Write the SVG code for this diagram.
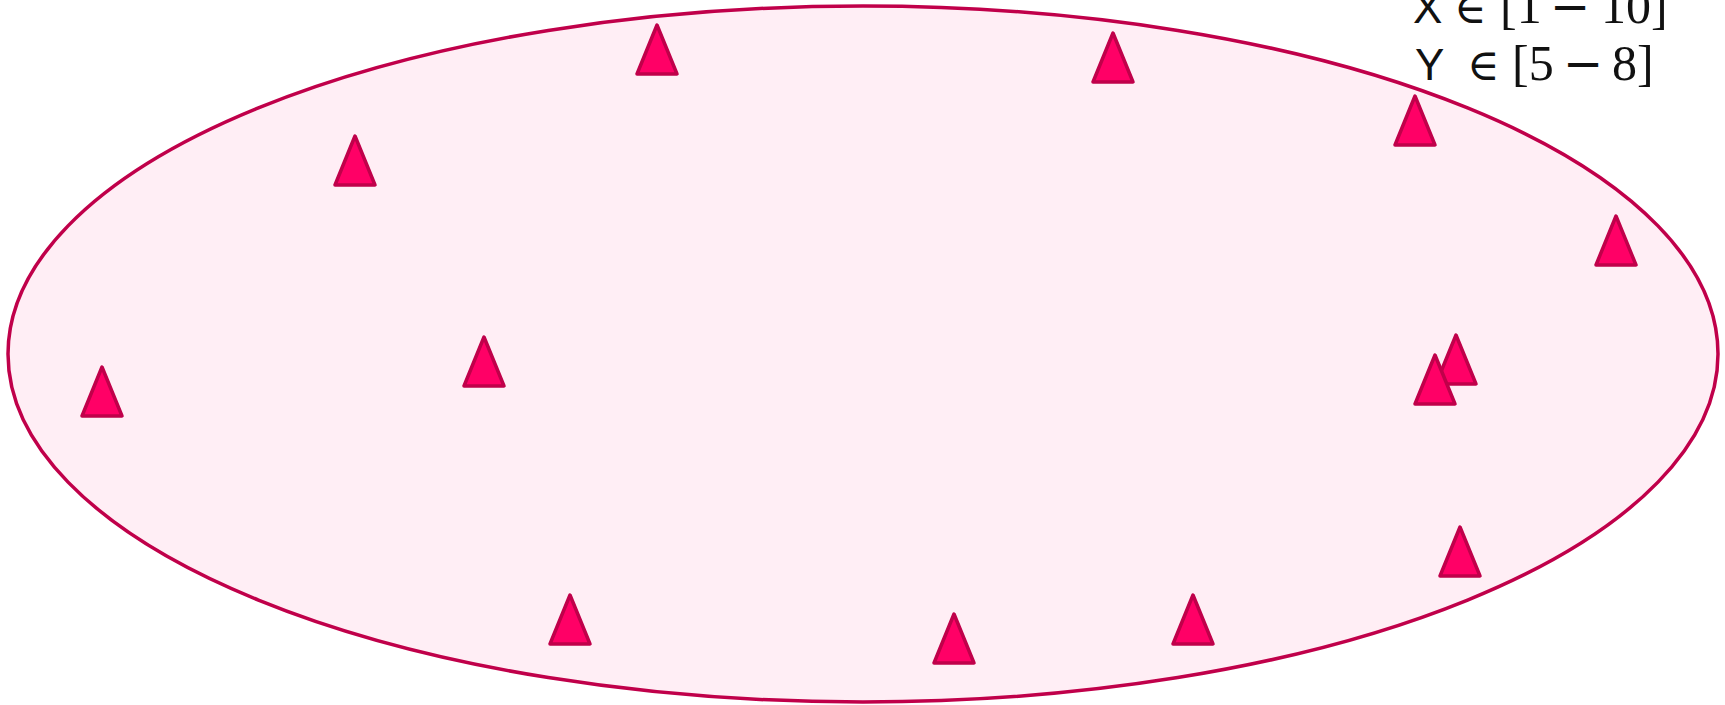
<svg xmlns="http://www.w3.org/2000/svg" width="1725" height="705" viewBox="0 0 1725 705">
<defs>
<style>
.region{fill:#FFEEF5;stroke:#C0004A;stroke-width:3.5}
.tri{fill:#FF0066;stroke:#C0004A;stroke-width:3.5;stroke-linejoin:round}
.lbl{font-size:44px;fill:#111}
.sans{font-family:"Liberation Sans","DejaVu Sans",sans-serif}
.math{font-family:"Liberation Serif","DejaVu Serif",serif;font-size:50px}
.el{font-family:"Liberation Serif","DejaVu Serif",serif;font-size:44px}
.op{font-family:"DejaVu Sans",sans-serif;font-size:48px}
</style>
<path id="t" d="M0,0 L20,49 L-20,49 Z"/>
</defs>
<g id="region"><ellipse class="region" cx="863" cy="354" rx="855" ry="348"/></g>
<g id="points">
<use href="#t" class="tri" x="657" y="25"/>
<use href="#t" class="tri" x="1113" y="33"/>
<use href="#t" class="tri" x="355" y="136"/>
<use href="#t" class="tri" x="1415" y="96"/>
<use href="#t" class="tri" x="1616" y="216"/>
<use href="#t" class="tri" x="484" y="337"/>
<use href="#t" class="tri" x="102" y="367"/>
<use href="#t" class="tri" x="1456" y="335"/>
<use href="#t" class="tri" x="1435" y="355"/>
<use href="#t" class="tri" x="1460" y="527"/>
<use href="#t" class="tri" x="570" y="595"/>
<use href="#t" class="tri" x="954" y="614"/>
<use href="#t" class="tri" x="1193" y="595"/>
</g>
<g id="label" class="lbl">
<text y="23"><tspan class="sans" x="1413">X</tspan><tspan class="el" x="1454">∈</tspan><tspan class="math" x="1500">[1</tspan><tspan class="op" x="1550">−</tspan><tspan class="math" x="1601">10]</tspan></text>
<text y="80"><tspan class="sans" x="1415">Y</tspan><tspan class="el" x="1467">∈</tspan><tspan class="math" x="1512">[5</tspan><tspan class="op" x="1563">−</tspan><tspan class="math" x="1612">8]</tspan></text>
</g>
</svg>
